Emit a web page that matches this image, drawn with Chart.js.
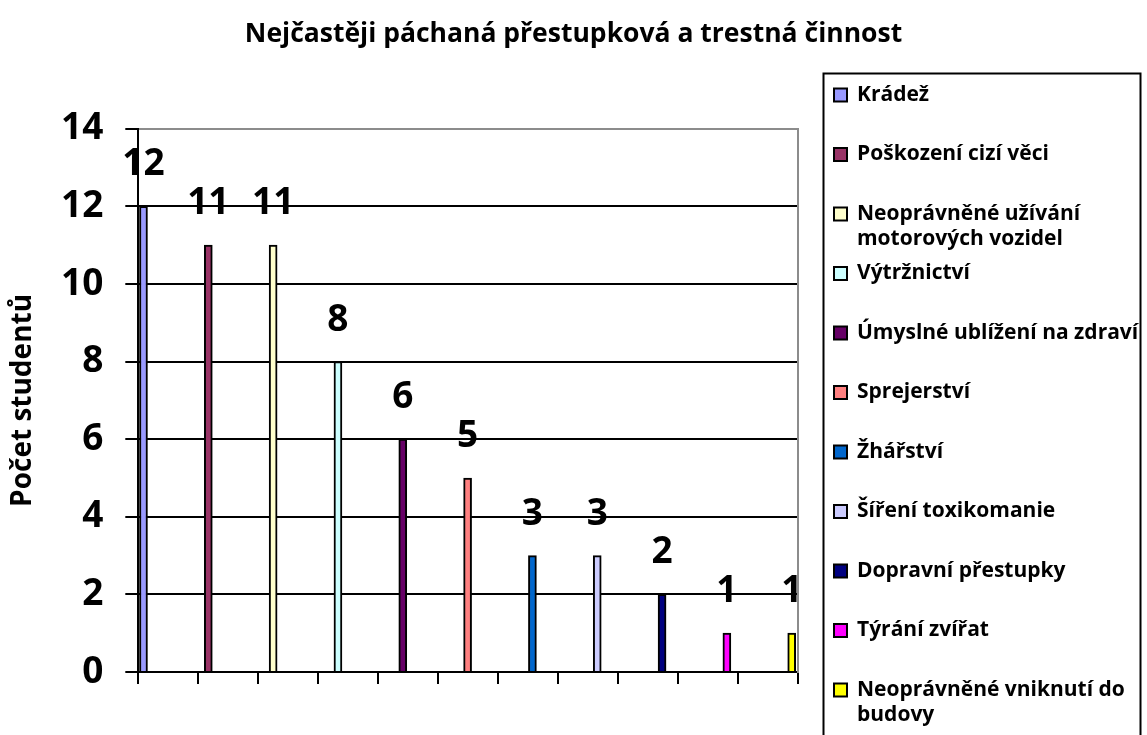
<!DOCTYPE html>
<html lang="cs">
<head>
<meta charset="utf-8">
<title>Přestupková a trestná činnost</title>
<script src="https://cdn.jsdelivr.net/npm/chart.js@4.4.1/dist/chart.umd.min.js"></script>
<style>
  html, body { margin: 0; padding: 0; background: #fff; }
  #wrap { width: 1147px; height: 735px; }
</style>
</head>
<body>
<div id="wrap"><canvas id="offenceChart"></canvas></div>
<script>
"use strict"

const categories = [
  "Krádež",
  "Poškození cizí věci",
  "Neoprávněné užívání motorových vozidel",
  "Výtržnictví",
  "Úmyslné ublížení na zdraví",
  "Sprejerství",
  "Žhářství",
  "Šíření toxikomanie",
  "Dopravní přestupky",
  "Týrání zvířat",
  "Neoprávněné vniknutí do budovy"
];
const studentCounts = [12, 11, 11, 8, 6, 5, 3, 3, 2, 1, 1];
const barColors = ["#9999FF", "#993366", "#FFFFCC", "#CCFFFF", "#660066", "#FF8080",
                   "#0066CC", "#CCCCFF", "#000080", "#FF00FF", "#FFFF00"];
const yTicks = [0, 2, 4, 6, 8, 10, 12, 14];

const FONT = '"Open Sans", Lato, sans-serif';

// one dataset per offence so every bar gets its own legend entry
const datasets = categories.map((name, i) => ({
  label: name,
  data: [{x: i, y: studentCounts[i]}],
  backgroundColor: barColors[i],
  borderColor: '#000',
  borderWidth: 2,
  barThickness: 8,
  grouped: false
}));

// value printed above each bar
const valueLabels = {
  id: 'valueLabels',
  afterDatasetsDraw(chart) {
    const ctx = chart.ctx;
    ctx.save();
    ctx.font = 'bold 37px ' + FONT;
    ctx.fillStyle = '#000';
    ctx.textAlign = 'center';
    ctx.textBaseline = 'alphabetic';
    chart.data.datasets.forEach((ds, i) => {
      chart.getDatasetMeta(i).data.forEach((bar, j) => {
        ctx.fillText(String(ds.data[j].y), bar.x, bar.y - 31);
      });
    });
    ctx.restore();
  }
};

// boxed legend on the right, long names wrap onto a second line
const boxLegend = {
  id: 'boxLegend',
  afterDraw(chart) {
    const ctx = chart.ctx;
    const left = 823, top = 73, right = 1140;
    ctx.save();
    ctx.lineWidth = 2;
    ctx.strokeStyle = '#000';
    ctx.strokeRect(left + 0.5, top + 0.5, right - left, chart.height);
    ctx.font = 'bold 21px ' + FONT;
    ctx.textBaseline = 'middle';
    ctx.textAlign = 'left';
    chart.data.datasets.forEach((ds, i) => {
      const cy = 95 + i * 59.5;
      ctx.fillStyle = ds.backgroundColor;
      ctx.fillRect(834, cy - 6.5, 13, 13);
      ctx.lineWidth = 2;
      ctx.strokeStyle = '#000';
      ctx.strokeRect(834, cy - 6.5, 13, 13);
      // wrap words
      const words = ds.label.split(' ');
      const lines = [];
      let line = '';
      words.forEach(w => {
        const test = line ? line + ' ' + w : w;
        if (line && ctx.measureText(test).width > 290) {
          lines.push(line);
          line = w;
        } else {
          line = test;
        }
      });
      lines.push(line);
      ctx.fillStyle = '#000';
      lines.forEach((l, k) => ctx.fillText(l, 857, cy + k * 25));
    });
    ctx.restore();
  }
};

new Chart(document.getElementById('offenceChart'), {
  type: 'bar',
  data: { datasets: datasets },
  options: {
    responsive: true,
    maintainAspectRatio: false,
    animation: false,
    layout: { padding: { left: 0, right: 0, top: 0, bottom: 51 } },
    plugins: {
      legend: { display: false },
      tooltip: { enabled: false },
      title: {
        display: true,
        text: 'Nejčastěji páchaná přestupková a trestná činnost',
        color: '#000',
        font: { family: FONT, size: 26.5, weight: 'bold' },
        padding: { top: 19, bottom: 78 }
      }
    },
    scales: {
      x: {
        type: 'linear',
        display: false,
        offset: false,
        min: -0.08,
        max: 10.094
      },
      xTicks: {
        type: 'linear',
        position: 'bottom',
        offset: false,
        min: 0,
        max: 11,
        ticks: { display: false, stepSize: 1 },
        grid: { offset: false, drawOnChartArea: false, tickLength: 12, color: '#000', lineWidth: 2 },
        border: { color: '#000', width: 2 }
      },
      y: {
        min: 0,
        max: 14,
        afterBuildTicks: s => { s.ticks = yTicks.map(v => ({value: v})); },
        afterFit: s => { s.width = 138.3; },
        ticks: {
          color: '#000',
          padding: 22,
          font: { family: FONT, size: 37, weight: 'bold' }
        },
        grid: {
          color: c => c.tick && c.tick.value === 14 ? '#8c8c8c' : '#000',
          tickColor: '#000',
          lineWidth: 2,
          tickLength: 13
        },
        border: { color: '#000', width: 2 },
        title: {
          display: true,
          text: 'Počet studentů',
          color: '#000',
          font: { family: FONT, size: 28, weight: 'bold' },
          padding: { top: 6, bottom: 0 }
        }
      },
      // right edge of the plot; also keeps room for the legend box
      yRight: {
        position: 'right',
        min: 0,
        max: 14,
        ticks: { display: false },
        grid: { display: false, drawTicks: false },
        border: { color: '#8c8c8c', width: 2 },
        afterFit: s => { s.width = 349.2; }
      }
    }
  },
  plugins: [valueLabels, boxLegend]
});
</script>
</body>
</html>
